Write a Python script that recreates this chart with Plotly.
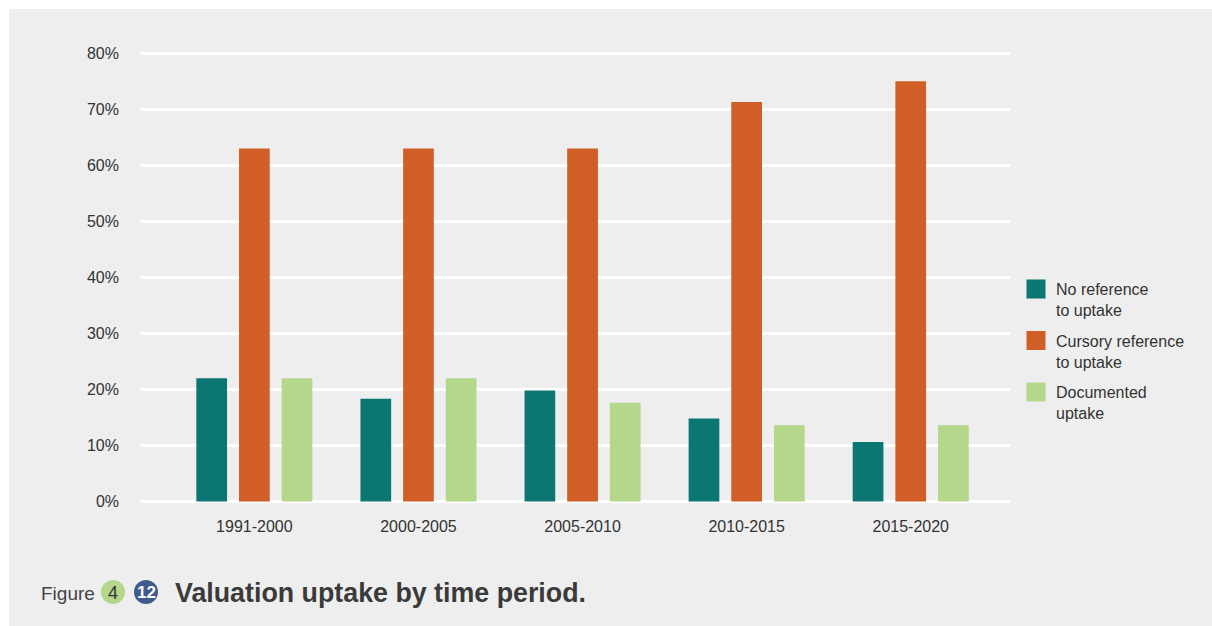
import plotly.graph_objects as go

# Periods and share of studies (%) in each uptake category
periods = ["1991-2000", "2000-2005", "2005-2010", "2010-2015", "2015-2020"]
no_reference = [22, 18.3, 19.8, 14.8, 10.6]
cursory_reference = [63, 63, 63, 71.3, 75]
documented_uptake = [22, 22, 17.6, 13.6, 13.6]

series_names = ["No reference<br>to uptake", "Cursory reference<br>to uptake", "Documented<br>uptake"]
series_values = [no_reference, cursory_reference, documented_uptake]
series_colors = ["#0c7672", "#d15e27", "#b4d78c"]

y_ticks = [0, 10, 20, 30, 40, 50, 60, 70, 80]
y_tick_labels = [f"{v}%" for v in y_ticks]

W, H = 1212, 626
M_L, M_R, M_T, M_B = 140, 202, 42, 119
PW, PH = W - M_L - M_R, H - M_T - M_B


def px_x(x):
    return (x - M_L) / PW


def px_y(y):
    return (H - M_B - y) / PH


FONT = "Liberation Sans, Arial, Helvetica, sans-serif"
TEXT = "#333333"

fig = go.Figure()

for name, vals, col in zip(series_names, series_values, series_colors):
    fig.add_trace(go.Bar(
        x=periods, y=vals, name=name, marker=dict(color=col, line=dict(width=0)),
        showlegend=False, hoverinfo="x+y",
    ))

# Legend entries with larger square swatches
for i, (name, col) in enumerate(zip(series_names, series_colors)):
    fig.add_trace(go.Scatter(
        x=[None], y=[None], mode="markers", name=name, legendgroup=f"g{i}",
        marker=dict(symbol="square", size=16, color=col, line=dict(color=col, width=3)),
    ))

shapes = [
    # white page margin along the top and left of the grey panel
    dict(type="rect", xref="paper", yref="paper", layer="below",
         x0=px_x(-5), x1=px_x(W + 5), y0=px_y(9), y1=px_y(-5),
         fillcolor="#ffffff", line=dict(width=0)),
    dict(type="rect", xref="paper", yref="paper", layer="below",
         x0=px_x(-5), x1=px_x(9), y0=px_y(H + 5), y1=px_y(-5),
         fillcolor="#ffffff", line=dict(width=0)),
    # figure number badges
    dict(type="circle", xref="paper", yref="paper",
         x0=px_x(101), x1=px_x(125), y0=px_y(604), y1=px_y(580),
         fillcolor="#b4d78c", line=dict(width=0)),
    dict(type="circle", xref="paper", yref="paper",
         x0=px_x(134), x1=px_x(158), y0=px_y(604), y1=px_y(580),
         fillcolor="#3f5b8c", line=dict(width=0)),
]

annotations = [
    dict(text="Figure", xref="paper", yref="paper", x=px_x(39), y=px_y(593),
         xanchor="left", yanchor="middle", showarrow=False,
         font=dict(family=FONT, size=19, color="#444444")),
    dict(text="4", xref="paper", yref="paper", x=px_x(113), y=px_y(592.5),
         xanchor="center", yanchor="middle", showarrow=False,
         font=dict(family=FONT, size=18, color="#333333")),
    dict(text="<b>12</b>", xref="paper", yref="paper", x=px_x(146), y=px_y(592.5),
         xanchor="center", yanchor="middle", showarrow=False,
         font=dict(family=FONT, size=17, color="#ffffff")),
    dict(text="<b>Valuation uptake by time period.</b>", xref="paper", yref="paper",
         x=px_x(173), y=px_y(593), xanchor="left", yanchor="middle", showarrow=False,
         font=dict(family=FONT, size=26.8, color="#3a3a3a")),
]

fig.update_layout(
    width=W, height=H,
    margin=dict(l=M_L, r=M_R, t=M_T, b=M_B, pad=0),
    paper_bgcolor="#eeeeee",
    plot_bgcolor="rgba(0,0,0,0)",
    barmode="group",
    bargap=0.22,
    bargroupgap=0.28,
    font=dict(family=FONT, size=16, color=TEXT),
    showlegend=True,
    legend=dict(
        x=px_x(1016), y=px_y(272), xanchor="left", yanchor="top",
        bgcolor="rgba(0,0,0,0)", borderwidth=0, valign="top",
        tracegroupgap=7, font=dict(family=FONT, size=16, color=TEXT),
    ),
    xaxis=dict(
        range=[-0.697, 4.605], showgrid=False, zeroline=False, showline=False,
        ticks="", ticklabelstandoff=8, tickfont=dict(size=16, color=TEXT),
    ),
    yaxis=dict(
        range=[-1, 82], tickmode="array", tickvals=y_ticks, ticktext=y_tick_labels,
        showgrid=True, gridcolor="#ffffff", gridwidth=2.5,
        zeroline=False, showline=False, ticks="", ticklabelstandoff=20,
        tickfont=dict(size=16, color=TEXT),
    ),
    shapes=shapes,
    annotations=annotations,
)

fig.write_html("out.html")
